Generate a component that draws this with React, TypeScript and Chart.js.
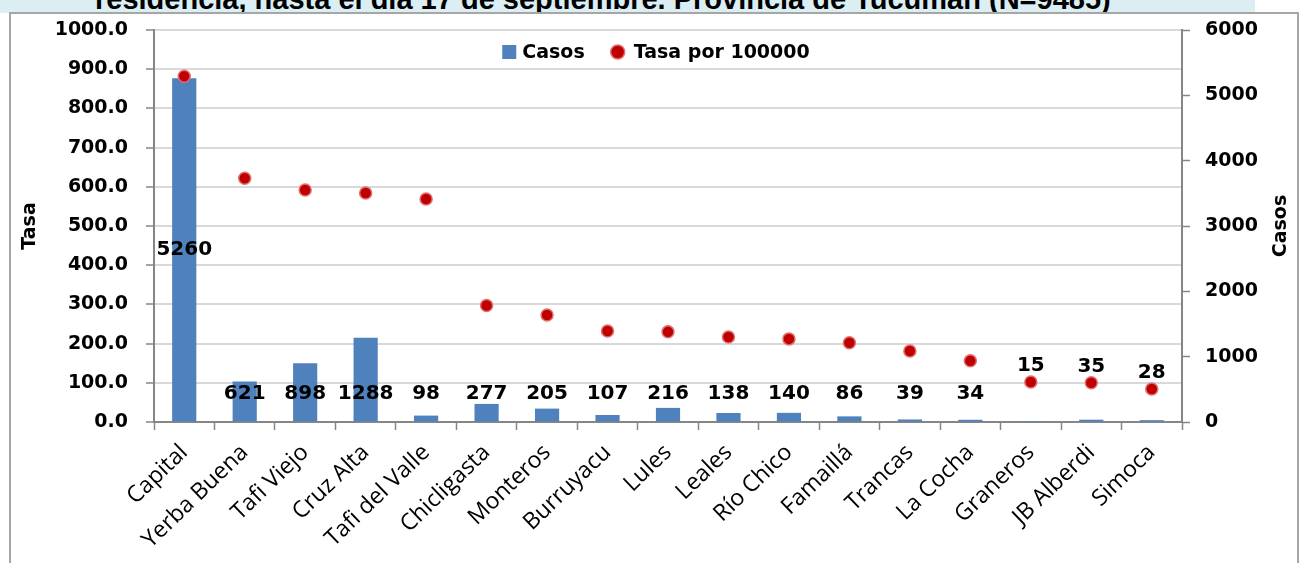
import React, { useEffect, useRef } from "react";
import { Chart, registerables } from "chart.js";

Chart.register(...registerables);

const TITLE = "residencia, hasta el día 17 de septiembre. Provincia de Tucumán (N=9485)";
const categories = [
  "Capital", "Yerba Buena", "Tafi Viejo", "Cruz Alta", "Tafi del Valle", "Chicligasta",
  "Monteros", "Burruyacu", "Lules", "Leales", "Río Chico", "Famaillá", "Trancas",
  "La Cocha", "Graneros", "JB Alberdi", "Simoca",
];
const casos = [5260, 621, 898, 1288, 98, 277, 205, 107, 216, 138, 140, 86, 39, 34, 15, 35, 28];
const tasa = [882, 622, 592, 584, 569, 297, 273, 232, 230, 217, 212, 202, 181, 156, 102, 100, 84];
const tasaTicks = [0, 100, 200, 300, 400, 500, 600, 700, 800, 900, 1000];
const casosTicks = [0, 1000, 2000, 3000, 4000, 5000, 6000];

const BOLD = '"DejaVu Sans", sans-serif';
const BAR_COLOR = "#4F81BD";
const PT_COLOR = "#C00000";
const PT_BORDER = "#E07070";

const labelPlugin = {
  id: "barLabels",
  afterDatasetsDraw(chart: any) {
    const meta = chart.getDatasetMeta(0);
    const ptMeta = chart.getDatasetMeta(1);
    const ctx = chart.ctx;
    const base = chart.scales.y1.getPixelForValue(0);
    ctx.save();
    ctx.font = `bold 20px ${BOLD}`;
    ctx.fillStyle = "#000";
    ctx.textAlign = "center";
    ctx.textBaseline = "middle";
    meta.data.forEach((bar: any, i: number) => {
      const h = base - bar.y;
      let y = h > 150 ? (bar.y + base) / 2 : base - 28;
      const py = ptMeta.data[i].y;
      if (Math.abs(y - py) < 18) y = py - 16;
      ctx.fillText(String(casos[i]), bar.x, y);
    });
    const ca = chart.chartArea;
    // right axis title (reads bottom to top)
    ctx.save();
    ctx.translate(1281, (ca.top + ca.bottom) / 2);
    ctx.rotate(-Math.PI / 2);
    ctx.font = `bold 19px ${BOLD}`;
    ctx.fillText("Casos", 0, 0);
    ctx.restore();

    // legend inside plot area
    ctx.font = `bold 19px ${BOLD}`;
    ctx.textAlign = "left";
    const ds = chart.data.datasets;
    const l1 = ds[0].label;
    const l2 = ds[1].label;
    const w1 = ctx.measureText(l1).width;
    const w2 = ctx.measureText(l2).width;
    const gap = 26;
    const total = 20 + w1 + gap + 16 + 7 + w2;
    let x = (ca.left + ca.right) / 2 - total / 2 - 12;
    const y = ca.top + 22;
    ctx.fillStyle = BAR_COLOR;
    ctx.fillRect(x, y - 7, 14, 14);
    ctx.fillStyle = "#000";
    ctx.fillText(l1, x + 20, y + 1);
    x += 20 + w1 + gap;
    ctx.beginPath();
    ctx.arc(x + 7, y, 7, 0, Math.PI * 2);
    ctx.fillStyle = PT_COLOR;
    ctx.fill();
    ctx.lineWidth = 1.5;
    ctx.strokeStyle = PT_BORDER;
    ctx.stroke();
    ctx.fillStyle = "#000";
    ctx.fillText(l2, x + 23, y + 1);
    ctx.restore();
  },
};

export default function App() {
  const ref = useRef<HTMLCanvasElement>(null);
  useEffect(() => {
    const chart = new Chart(ref.current as HTMLCanvasElement, {
      type: "bar",
      data: {
        labels: categories,
        datasets: [
          {
            type: "bar",
            label: "Casos",
            data: casos,
            yAxisID: "y1",
            backgroundColor: BAR_COLOR,
            barPercentage: 0.4,
            categoryPercentage: 1,
            order: 2,
          } as any,
          {
            type: "line",
            label: "Tasa por 100000",
            data: tasa,
            yAxisID: "y",
            showLine: false,
            pointRadius: 6,
            pointBackgroundColor: PT_COLOR,
            pointBorderColor: PT_BORDER,
            pointBorderWidth: 1.5,
            backgroundColor: PT_COLOR,
            borderColor: PT_BORDER,
            order: 1,
          } as any,
        ],
      },
      options: {
        responsive: false,
        animation: false,
        layout: { padding: { top: 30, left: 0, right: 0, bottom: 0 } },
        plugins: {
          tooltip: { enabled: false },
          legend: { display: false },
        },
        scales: {
          x: {
            type: "category",
            offset: true,
            grid: {
              display: true,
              drawOnChartArea: false,
              drawTicks: true,
              tickLength: 8,
              tickColor: "#868686",
              tickWidth: 1.5,
              offset: true,
            },
            border: { color: "#868686", width: 2 },
            ticks: {
              autoSkip: false,
              minRotation: 44,
              maxRotation: 44,
              color: "#000",
              padding: 9,
              font: { family: '"Open Sans", sans-serif', size: 23 },
            },
            afterFit: (s: any) => { s.height = 141; },
          },
          y: {
            position: "left",
            min: 0,
            max: 1000,
            afterBuildTicks: (s: any) => { s.ticks = tasaTicks.map((v) => ({ value: v })); },
            ticks: {
              color: "#000",
              padding: 18,
              font: { family: BOLD, size: 19, weight: "bold" },
              callback: (v: any) => Number(v).toFixed(1),
            },
            grid: { color: "#D9D9D9", lineWidth: 2, tickLength: 8, tickColor: "#868686", tickWidth: 1.5 },
            border: { color: "#868686", width: 2 },
            title: {
              display: true,
              text: "Tasa",
              color: "#000",
              font: { family: BOLD, size: 19, weight: "bold" },
              padding: { top: 19, bottom: 0 },
            },
            afterFit: (s: any) => { s.width = 154; },
          },
          y1: {
            position: "right",
            min: 0,
            max: 6000,
            afterBuildTicks: (s: any) => { s.ticks = casosTicks.map((v) => ({ value: v })); },
            ticks: {
              color: "#000",
              padding: 15,
              font: { family: BOLD, size: 19, weight: "bold" },
              callback: (v: any) => String(v),
            },
            grid: { drawOnChartArea: false, tickLength: 8, tickColor: "#868686", tickWidth: 1.5 },
            border: { color: "#868686", width: 2 },
            afterFit: (s: any) => { s.width = 125; },
          },
        },
      } as any,
      plugins: [labelPlugin],
    });
    return () => chart.destroy();
  }, []);

  return (
    <div style={{ position: "fixed", left: 0, top: 0, width: 1307, height: 563, overflow: "hidden", background: "#fff" }}>
      <div style={{ position: "absolute", left: 0, top: 0, width: 1255, height: 13, background: "#DAEEF3", overflow: "hidden" }}>
        <div
          style={{
            position: "absolute",
            left: 95,
            top: -15.5,
            fontFamily: '"Liberation Sans", Arial, sans-serif',
            fontWeight: "bold",
            fontSize: 29,
            lineHeight: "29px",
            whiteSpace: "nowrap",
            color: "#000",
          }}
        >
          {TITLE}
        </div>
      </div>
      <div
        style={{
          position: "absolute",
          left: 9,
          top: 12,
          width: 1290,
          height: 560,
          boxSizing: "border-box",
          border: "2px solid #A6A6A6",
        }}
      />
      <canvas ref={ref} width={1307} height={563} style={{ position: "absolute", left: 0, top: 0 }} />
    </div>
  );
}
